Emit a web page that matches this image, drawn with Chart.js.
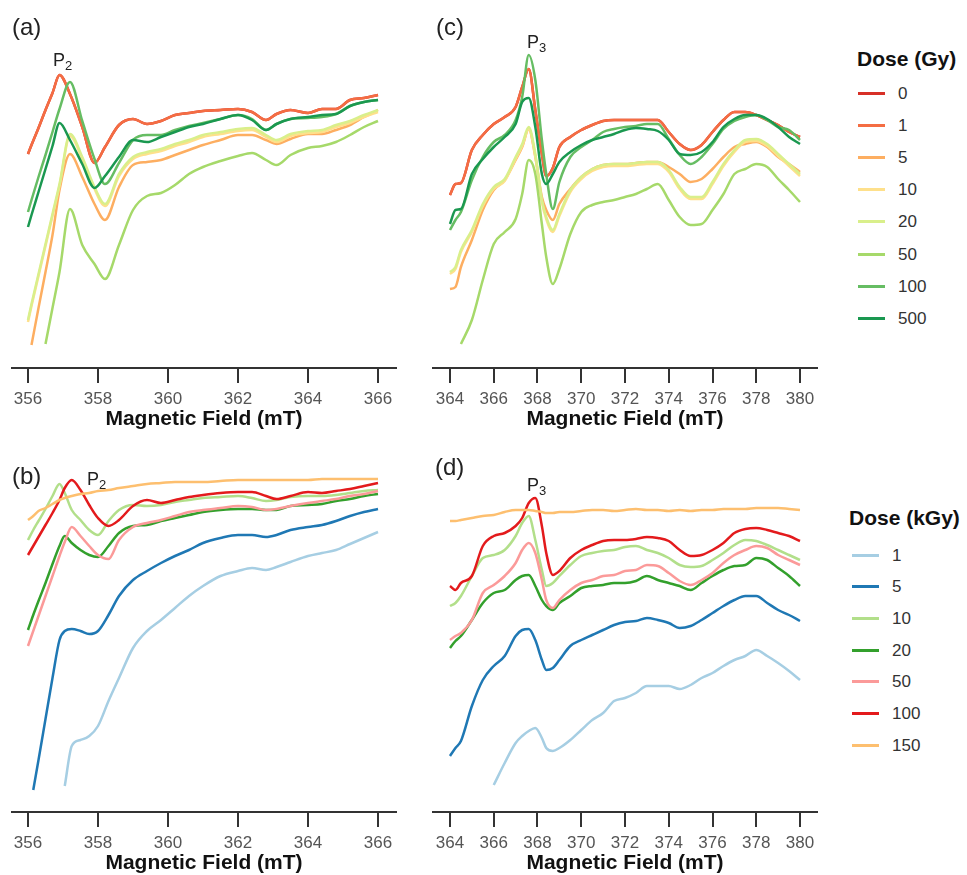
<!DOCTYPE html>
<html>
<head>
<meta charset="utf-8">
<script src="https://cdn.jsdelivr.net/npm/chart.js@4.4.1/dist/chart.umd.min.js"></script>
<style>
  body { margin: 0; background: #fff; width: 967px; height: 875px; overflow: hidden; position: relative;
         font-family: "Liberation Sans", Arial, sans-serif; }
  canvas { position: absolute; }
  .tag { position: absolute; font-size: 24px; color: #222; line-height: 1; }
  .peak { position: absolute; font-size: 18px; color: #222; line-height: 1; }
  .peak sub { font-size: 13px; vertical-align: -4px; line-height: 1; }
  .lgTitle { position: absolute; font-size: 21px; font-weight: bold; color: #111; line-height: 1; white-space: nowrap; }
  .lgLine { position: absolute; height: 3px; width: 27px; }
  .lgText { position: absolute; font-size: 17px; color: #333; line-height: 1; }
</style>
</head>
<body>
<canvas id="chartA" width="410" height="440" style="left:0;top:0"></canvas>
<canvas id="chartC" width="410" height="440" style="left:420px;top:0"></canvas>
<canvas id="chartB" width="410" height="440" style="left:0;top:444px"></canvas>
<canvas id="chartD" width="410" height="440" style="left:420px;top:444px"></canvas>

<div class="tag" style="left:12px;top:15px">(a)</div>
<div class="tag" style="left:436px;top:15px">(c)</div>
<div class="tag" style="left:12px;top:464px">(b)</div>
<div class="tag" style="left:435px;top:455px">(d)</div>
<div class="peak" style="left:53px;top:51px">P<sub>2</sub></div>
<div class="peak" style="left:527px;top:33px">P<sub>3</sub></div>
<div class="peak" style="left:87px;top:470px">P<sub>2</sub></div>
<div class="peak" style="left:527px;top:476px">P<sub>3</sub></div>

<script>
// tick labels (mT)
const ticksAB = [356, 358, 360, 362, 364, 366];
const ticksCD = [364, 366, 368, 370, 372, 374, 376, 378, 380];

// doses
const gyLabels = ['0', '1', '5', '10', '20', '50', '100', '500'];
const kgyLabels = ['1', '5', '10', '20', '50', '100', '150'];
const gyColors = ['#d73027', '#f46d43', '#fdae61', '#fee08b', '#d9ef8b', '#a6d96a', '#66bd63', '#1a9850'];
const kgyColors = ['#a6cee3', '#1f78b4', '#b2df8a', '#33a02c', '#fb9a99', '#e31a1c', '#fdbf6f'];

// (a) field (mT) and signal (a.u.) per dose in Gy
const fieldA = [356.0, 356.1, 356.3, 356.5, 356.7, 356.9, 357.2, 357.55, 357.9, 358.2, 358.6, 359.0, 359.4, 359.8, 360.2, 360.6, 361.0, 361.5, 362.0, 362.4, 362.8, 363.1, 363.5, 364.0, 364.4, 364.8, 365.2, 365.6, 366.0];
const a0   = [214, 223, 240, 258, 275, 293, 274, 241, 205, 221, 243, 249, 244, 247, 253, 255, 257, 258, 259, 256, 248, 254, 258, 255, 259, 259, 268, 270, 273];
const a1   = [214, 223, 240, 258, 275, 293, 274, 241, 205, 221, 243, 249, 244, 247, 253, 255, 257, 258, 259, 256, 248, 254, 258, 255, 259, 259, 268, 270, 273];
const a5   = [null, 23, 60, 96, 133, 178, 214, 191, 164, 148, 181, 203, 206, 208, 213, 218, 223, 228, 233, 233, 228, 224, 229, 234, 234, 238, 243, 251, 258];
const a10  = [46, 62, 92, 122, 152, 182, 232, 209, 179, 162, 192, 209, 214, 217, 222, 226, 231, 234, 237, 238, 231, 226, 232, 235, 236, 241, 245, 251, 256];
const a20  = [48, 64, 94, 124, 154, 184, 234, 211, 181, 164, 194, 211, 216, 219, 224, 228, 233, 236, 239, 240, 233, 228, 234, 237, 238, 243, 247, 253, 258];
const a50  = [null, null, null, 24, 60, 96, 159, 123, 104, 89, 123, 158, 172, 175, 183, 194, 201, 207, 212, 215, 208, 203, 213, 220, 222, 226, 233, 241, 247];
const a100 = [156, 168, 191, 213, 236, 259, 286, 247, 209, 184, 205, 228, 233, 233, 238, 242, 245, 249, 253, 249, 238, 244, 249, 250, 251, 254, 262, 266, 268];
const a500 = [141, 153, 176, 199, 222, 245, 228, 204, 180, 192, 211, 228, 226, 231, 236, 241, 244, 249, 253, 248, 238, 244, 249, 251, 253, 254, 262, 266, 268];

// (c)
const fieldCD = [364.0, 364.25, 364.5, 365.0, 365.5, 366.0, 366.5, 367.0, 367.3, 367.6, 367.9, 368.2, 368.4, 368.7, 369.0, 369.5, 370.0, 370.5, 371.0, 371.5, 372.0, 372.5, 373.0, 373.5, 374.0, 374.5, 375.0, 375.5, 376.0, 376.5, 377.0, 377.5, 378.0, 378.5, 379.0, 379.5, 380.0];
const c0   = [173, 184, 185, 218, 233, 244, 251, 261, 281, 299, 258, 214, 192, 200, 221, 231, 238, 243, 247, 248, 248, 248, 248, 248, 236, 224, 218, 223, 236, 248, 256, 256, 253, 248, 243, 236, 231];
const c1   = [173, 184, 185, 218, 233, 244, 251, 261, 281, 299, 258, 214, 192, 200, 221, 231, 238, 243, 247, 248, 248, 248, 248, 248, 236, 224, 218, 223, 236, 248, 256, 256, 253, 248, 243, 236, 231];
const c5   = [79, 81, 101, 128, 158, 178, 188, 208, 221, 239, 211, 171, 158, 148, 164, 179, 191, 199, 203, 204, 204, 205, 206, 206, 201, 194, 186, 189, 199, 211, 221, 224, 226, 221, 211, 204, 196];
const c10  = [94, 99, 116, 136, 162, 179, 187, 209, 222, 239, 212, 166, 149, 136, 152, 176, 189, 197, 201, 202, 202, 203, 204, 204, 196, 179, 169, 169, 184, 202, 216, 226, 227, 222, 212, 202, 192];
const c20  = [96, 101, 118, 138, 164, 181, 189, 211, 224, 241, 214, 168, 151, 138, 154, 178, 191, 199, 203, 204, 204, 205, 206, 206, 198, 181, 171, 171, 186, 204, 218, 228, 229, 224, 214, 204, 194];
const c50  = [null, null, 24, 48, 88, 124, 136, 149, 174, 208, 194, 144, 111, 84, 99, 134, 156, 163, 166, 168, 171, 174, 179, 184, 168, 151, 143, 144, 158, 174, 194, 199, 204, 201, 189, 178, 166];
const c100 = [138, 148, 156, 188, 211, 226, 233, 248, 271, 313, 288, 228, 194, 159, 186, 211, 221, 228, 236, 239, 241, 242, 244, 244, 229, 213, 204, 211, 224, 239, 247, 251, 253, 248, 241, 238, 228];
const c500 = [144, 158, 159, 194, 209, 221, 231, 244, 266, 270, 241, 194, 184, 194, 206, 216, 223, 228, 231, 234, 238, 240, 239, 237, 228, 214, 213, 216, 226, 241, 249, 253, 253, 249, 241, 231, 224];

// (b) dose in kGy
const fieldB = [356.0, 356.15, 356.3, 356.5, 356.7, 356.9, 357.05, 357.25, 357.5, 357.75, 358.0, 358.3, 358.6, 359.0, 359.4, 359.8, 360.2, 360.6, 361.0, 361.5, 362.0, 362.4, 362.8, 363.1, 363.5, 364.0, 364.4, 364.8, 365.2, 365.6, 366.0];
const b1   = [null, null, null, null, null, null, 26, 66, 72, 76, 86, 111, 134, 164, 181, 192, 204, 216, 226, 236, 241, 244, 242, 245, 250, 256, 259, 262, 268, 274, 280];
const b5   = [null, 22, 52, 93, 134, 172, 181, 183, 181, 178, 181, 197, 216, 232, 241, 249, 256, 262, 269, 274, 277, 277, 275, 277, 282, 285, 287, 291, 296, 300, 303];
const b10  = [272, 282, 291, 303, 316, 328, 319, 302, 292, 282, 277, 291, 302, 307, 306, 307, 310, 312, 314, 315, 316, 314, 311, 312, 315, 316, 316, 317, 319, 321, 322];
const b20  = [182, 197, 211, 229, 248, 266, 276, 269, 262, 257, 255, 266, 279, 286, 287, 291, 294, 297, 300, 302, 303, 303, 302, 302, 306, 307, 308, 311, 313, 316, 318];
const b50  = [166, 181, 196, 216, 236, 256, 270, 285, 276, 266, 257, 253, 272, 285, 289, 292, 296, 300, 302, 304, 306, 305, 302, 303, 306, 309, 311, 313, 316, 318, 321];
const b100 = [257, 266, 275, 287, 299, 312, 324, 332, 322, 307, 294, 286, 292, 306, 312, 309, 312, 315, 317, 319, 320, 320, 316, 313, 316, 320, 319, 321, 323, 326, 329];
const b150 = [292, 296, 301, 304, 308, 312, 314, 316, 318, 319, 321, 322, 324, 326, 328, 329, 330, 330, 330, 331, 332, 332, 332, 332, 332, 332, 333, 333, 333, 333, 333];

// (d)
const d1   = [null, null, null, null, null, 27, 49, 69, 76, 81, 84, 74, 64, 61, 64, 72, 82, 92, 99, 111, 114, 119, 126, 126, 126, 123, 127, 134, 139, 146, 152, 156, 162, 156, 149, 141, 132];
const d5   = [56, 64, 71, 106, 132, 146, 156, 176, 182, 183, 172, 152, 142, 144, 152, 166, 172, 177, 182, 187, 190, 191, 194, 192, 189, 184, 186, 192, 199, 206, 212, 216, 216, 209, 202, 197, 191];
const d10  = [206, 209, 216, 236, 254, 257, 262, 276, 289, 296, 272, 242, 226, 229, 236, 247, 256, 259, 261, 262, 265, 266, 262, 259, 254, 247, 245, 246, 252, 259, 267, 272, 271, 267, 262, 257, 252];
const d20  = [164, 171, 176, 192, 209, 219, 222, 232, 236, 237, 226, 212, 206, 202, 209, 216, 224, 226, 227, 229, 229, 231, 236, 232, 229, 226, 222, 229, 236, 242, 246, 247, 254, 252, 244, 236, 226];
const d50  = [172, 176, 179, 192, 219, 227, 236, 249, 262, 269, 259, 232, 212, 204, 212, 222, 229, 232, 236, 237, 241, 242, 247, 246, 239, 231, 227, 232, 239, 249, 257, 262, 266, 264, 257, 252, 247];
const d100 = [226, 222, 229, 236, 266, 276, 279, 286, 294, 309, 314, 286, 259, 237, 241, 254, 262, 267, 271, 272, 272, 273, 275, 274, 271, 262, 256, 257, 262, 269, 279, 283, 284, 282, 279, 276, 271];
const d150 = [291, 291, 292, 294, 296, 297, 300, 302, 302, 302, 301, 300, 299, 299, 300, 300, 301, 302, 302, 301, 302, 303, 302, 302, 301, 302, 301, 302, 302, 303, 303, 303, 304, 304, 304, 303, 302];

Chart.defaults.font.family = '"Liberation Sans", Arial, sans-serif';

function makeChart(id, field, series, colors, ticks, xMin, xMax, padL, padR) {
    return new Chart(document.getElementById(id), {
        type: 'line',
        data: {
            datasets: series.map((s, i) => ({
                data: field.map((x, j) => ({x: x, y: s[j]})),
                borderColor: colors[i],
                borderWidth: 2.5,
                pointRadius: 0,
                cubicInterpolationMode: 'monotone',
                order: series.length - i   // higher dose drawn on top
            }))
        },
        options: {
            responsive: false,
            animation: false,
            layout: {padding: {left: padL, right: padR, top: 20, bottom: 8}},
            plugins: {legend: {display: false}, tooltip: {enabled: false}},
            scales: {
                x: {
                    type: 'linear',
                    min: xMin,
                    max: xMax,
                    afterBuildTicks: s => { s.ticks = ticks.map(v => ({value: v})); },
                    afterFit: s => { s.height = 64; },
                    border: {color: '#333', width: 2},
                    grid: {drawOnChartArea: false, tickLength: 15, color: '#333', lineWidth: 2},
                    ticks: {color: '#555', font: {size: 17}, padding: 6, maxRotation: 0},
                    title: {display: true, text: 'Magnetic Field (mT)', color: '#111',
                            font: {size: 21, weight: 'bold'}, padding: 0}
                },
                y: {display: false, min: 0, max: 348}
            }
        }
    });
}

makeChart('chartA', fieldA, [a0, a1, a5, a10, a20, a50, a100, a500], gyColors, ticksAB, 355.543, 366.514, 12, 14);
makeChart('chartC', fieldCD, [c0, c1, c5, c10, c20, c50, c100, c500], gyColors, ticksCD, 363.223, 380.777, 13, 13);
makeChart('chartB', fieldB, [b1, b5, b10, b20, b50, b100, b150], kgyColors, ticksAB, 355.543, 366.514, 12, 14);
makeChart('chartD', fieldCD, [d1, d5, d10, d20, d50, d100, d150], kgyColors, ticksCD, 363.223, 380.777, 13, 13);

function addLegend(title, labels, colors, left, titleY, firstY, step, lineX, textX) {
    const t = document.createElement('div');
    t.className = 'lgTitle';
    t.textContent = title;
    t.style.left = left + 'px';
    t.style.top = (titleY - 10) + 'px';
    document.body.appendChild(t);
    labels.forEach((lab, i) => {
        const y = firstY + i * step;
        const ln = document.createElement('div');
        ln.className = 'lgLine';
        ln.style.left = lineX + 'px';
        ln.style.top = (y - 1.5) + 'px';
        ln.style.background = colors[i];
        document.body.appendChild(ln);
        const tx = document.createElement('div');
        tx.className = 'lgText';
        tx.textContent = lab;
        tx.style.left = textX + 'px';
        tx.style.top = (y - 8.5) + 'px';
        document.body.appendChild(tx);
    });
}

addLegend('Dose (Gy)', gyLabels, gyColors, 857, 58, 93, 32.2, 858, 898);
addLegend('Dose (kGy)', kgyLabels, kgyColors, 849, 517, 555, 31.7, 852, 892);
</script>
</body>
</html>
